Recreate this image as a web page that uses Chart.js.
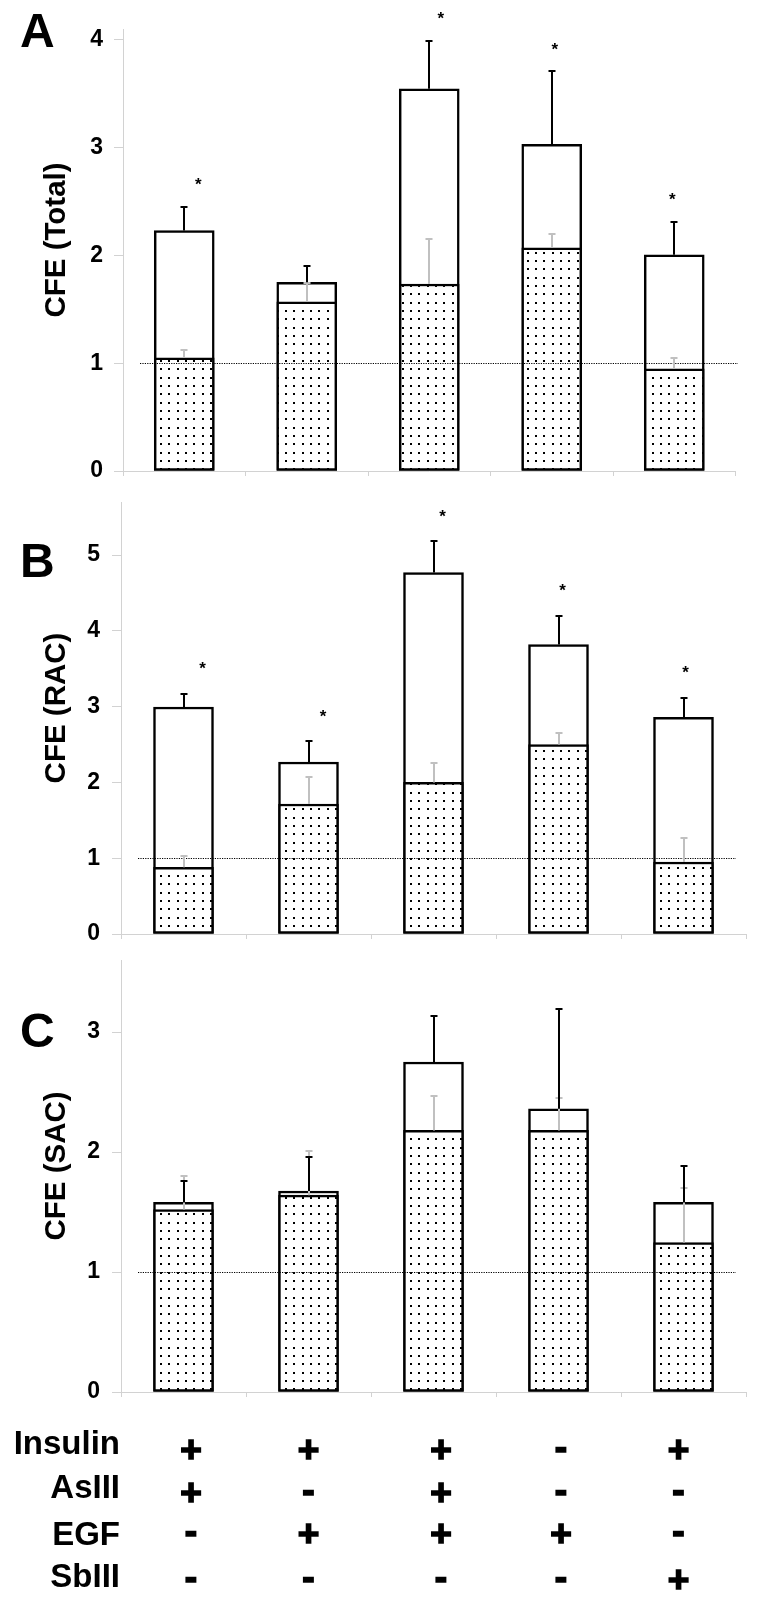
<!DOCTYPE html>
<html>
<head>
<meta charset="utf-8">
<script src="https://cdn.jsdelivr.net/npm/chart.js@4.4.1/dist/chart.umd.min.js"></script>
<style>
html,body{margin:0;padding:0;background:#fff;}
body{width:762px;height:1601px;position:relative;overflow:hidden;}
canvas{position:absolute;left:0;display:block;}
</style>
</head>
<body>
<canvas id="cA" width="762" height="490" style="top:0px;width:762px;height:490px"></canvas>
<canvas id="cB" width="762" height="455" style="top:490px;width:762px;height:455px"></canvas>
<canvas id="cC" width="762" height="656" style="top:945px;width:762px;height:656px"></canvas>
<script>
// ---------- data ----------
const categories = ['Ins+AsIII', 'Ins+EGF', 'Ins+AsIII+EGF', 'EGF', 'Ins+SbIII'];
const treatmentNames = ['Insulin', 'AsIII', 'EGF', 'SbIII'];
const insulin = ['+', '+', '+', '-', '+'];
const asIII   = ['+', '-', '+', '-', '-'];
const egf     = ['-', '+', '+', '+', '-'];
const sbIII   = ['-', '-', '-', '-', '+'];
const yTicksA = [0, 1, 2, 3, 4];
const yTicksB = [0, 1, 2, 3, 4, 5];
const yTicksC = [0, 1, 2, 3];

// Panel A - CFE (Total)
const totalA    = [2.23, 1.75, 3.545, 3.03, 2.005];
const totalErrA = [0.22, 0.15, 0.445, 0.68, 0.305];
const baseA     = [1.05, 1.57, 1.735, 2.07, 0.947];
const baseErrA  = [0.07, 0.175, 0.415, 0.13, 0.10];
const sigA      = [true, false, true, true, true];

// Panel B - CFE (RAC)
const totalB    = [2.995, 2.27, 4.77, 3.82, 2.86];
const totalErrB = [0.175, 0.27, 0.41, 0.38, 0.26];
const baseB     = [0.88, 1.715, 2.0, 2.5, 0.95];
const baseErrB  = [0.15, 0.355, 0.25, 0.15, 0.32];
const sigB      = [true, true, true, true, true];

// Panel C - CFE (SAC)
const totalC    = [1.58, 1.675, 2.75, 2.36, 1.58];
const totalErrC = [0.18, 0.285, 0.38, 0.83, 0.30];
const baseC     = [1.52, 1.64, 2.18, 2.18, 1.245];
const baseErrC  = [0.28, 0.37, 0.29, 0.27, 0.455];
const sigC      = [false, false, false, false, false];

// ---------- style / layout ----------
const FONT = 'Liberation Sans, Arial, Helvetica, sans-serif';
const AXIS_GREY = '#d2d2d2';
const SIGN_DX = [7.5, 0, 7.5, 2.5, -5];
const LABEL_BASE_DY = [62, 106, 153, 195];
const SIGN_CENTER_DY = [57.5, 100, 141, 187];

function dotPattern(ctx) {
  const t = document.createElement('canvas');
  t.width = 25; t.height = 25;
  const g = t.getContext('2d');
  g.fillStyle = '#ffffff'; g.fillRect(0, 0, 25, 25);
  g.fillStyle = '#000000';
  [2, 10, 18].forEach(x => [2, 10, 18].forEach(y => g.fillRect(x, y, 2, 2)));
  return ctx.createPattern(t, 'repeat');
}

function drawCentered(ctx, txt, cx, cy, stroke) {
  const m = ctx.measureText(txt);
  ctx.textAlign = 'center';
  ctx.textBaseline = 'alphabetic';
  const by = cy + (m.actualBoundingBoxAscent - m.actualBoundingBoxDescent) / 2;
  ctx.fillText(txt, cx, by);
  if (stroke) {
    ctx.lineWidth = stroke;
    ctx.strokeStyle = ctx.fillStyle;
    ctx.lineJoin = 'miter';
    ctx.strokeText(txt, cx, by);
  }
}

function makePanel(cfg) {
  const canvas = document.getElementById(cfg.id);
  const ctx = canvas.getContext('2d');
  const pattern = dotPattern(ctx);

  const decor = {
    id: 'decor',
    afterDatasetsDraw(chart) {
      const c = chart.ctx, ys = chart.scales.y, area = chart.chartArea;
      const mBase = chart.getDatasetMeta(0), mTot = chart.getDatasetMeta(1);
      c.save();
      // dotted reference line at 1
      const y1 = Math.round(ys.getPixelForValue(1)) + 0.5;
      c.setLineDash([1.2, 1.2]);
      c.lineWidth = 1.2;
      c.strokeStyle = '#000';
      c.beginPath();
      c.moveTo(area.left + 17, y1);
      c.lineTo(area.left + 615, y1);
      c.stroke();
      c.setLineDash([]);
      function err(meta, vals, errs, color) {
        c.strokeStyle = color;
        c.lineWidth = 2;
        vals.forEach((v, i) => {
          const x = Math.round(meta.data[i].x);
          const yb = ys.getPixelForValue(v);
          const yt = Math.round(ys.getPixelForValue(v + errs[i]));
          c.beginPath();
          c.moveTo(x, yb);
          c.lineTo(x, yt);
          c.moveTo(x - 3.5, yt);
          c.lineTo(x + 3.5, yt);
          c.stroke();
        });
      }
      err(mBase, cfg.base, cfg.baseErr, '#c0c0c0');
      err(mTot, cfg.total, cfg.totalErr, '#000');
      // significance stars
      c.fillStyle = '#000';
      c.font = 'bold 17px ' + FONT;
      cfg.sig.forEach((s, i) => {
        if (!s) return;
        const x = mTot.data[i].x + cfg.starDx[i];
        const y = ys.getPixelForValue(cfg.total[i] + cfg.totalErr[i]) - cfg.starGap;
        drawCentered(c, '*', x, y);
      });
      c.restore();
    },
    afterDraw(chart) {
      const c = chart.ctx, area = chart.chartArea;
      c.save();
      c.fillStyle = '#000';
      // panel letter
      c.font = 'bold 48px ' + FONT;
      c.textAlign = 'left';
      c.textBaseline = 'alphabetic';
      c.fillText(cfg.letter, 20, cfg.letterY);
      // y title
      c.save();
      c.translate(65, (area.top + area.bottom) / 2 - 10);
      c.rotate(-Math.PI / 2);
      c.font = 'bold 29.5px ' + FONT;
      c.textAlign = 'center';
      c.textBaseline = 'alphabetic';
      c.fillText(cfg.title, 0, 0);
      c.restore();
      // treatment table
      if (cfg.table) {
        const xs = chart.scales.x;
        const rows = [insulin, asIII, egf, sbIII];
        rows.forEach((row, r) => {
          c.font = 'bold 33px ' + FONT;
          c.textAlign = 'right';
          c.textBaseline = 'alphabetic';
          c.fillText(treatmentNames[r], area.left - 1, area.bottom + LABEL_BASE_DY[r]);
          c.font = 'bold 37px ' + FONT;
          row.forEach((sgn, i) => {
            drawCentered(c, sgn, xs.getPixelForValue(i) + SIGN_DX[i], area.bottom + SIGN_CENTER_DY[r], 1.6);
          });
        });
      }
      c.restore();
    }
  };

  return new Chart(ctx, {
    type: 'bar',
    data: {
      labels: categories,
      datasets: [
        { label: 'base', data: cfg.base, backgroundColor: pattern, borderColor: '#000', borderWidth: 2.5,
          borderSkipped: false, grouped: false, barThickness: 60 },
        { label: 'total', data: cfg.total, backgroundColor: '#ffffff', borderColor: '#000', borderWidth: 2.5,
          borderSkipped: false, grouped: false, barThickness: 60 }
      ]
    },
    options: {
      responsive: false,
      animation: false,
      devicePixelRatio: 1,
      layout: { padding: cfg.pad },
      plugins: { legend: { display: false }, tooltip: { enabled: false } },
      scales: {
        x: {
          grid: { display: true, drawOnChartArea: false, drawTicks: true, tickLength: 5, color: AXIS_GREY, offset: true },
          border: { display: true, color: AXIS_GREY, width: 1 },
          ticks: { display: false },
          afterFit: s => { s.height = 10; }
        },
        y: {
          min: 0, max: cfg.max,
          ticks: { stepSize: 1, includeBounds: false, color: '#000', padding: cfg.tickPad,
                   font: { family: FONT, weight: 'bold', size: 23 } },
          afterBuildTicks: s => { s.ticks = cfg.yTicks.map(v => ({ value: v })); },
          grid: { display: true, drawOnChartArea: false, drawTicks: true, tickLength: 9, color: AXIS_GREY },
          border: { display: true, color: AXIS_GREY, width: 1 },
          afterFit: s => { s.width = cfg.axisWidth; s.paddingTop = 0; s.paddingBottom = 0; }
        }
      }
    },
    plugins: [decor]
  });
}

makePanel({ id: 'cA', letter: 'A', letterY: 47, title: 'CFE (Total)', max: 4.1, yTicks: yTicksA,
  total: totalA, totalErr: totalErrA, base: baseA, baseErr: baseErrA, sig: sigA,
  axisWidth: 123, pad: { left: 0, right: 26.5, top: 29, bottom: 9 }, tickPad: 11,
  starGap: 25, starDx: [14, 0, 11.5, 3, -2], table: false });

makePanel({ id: 'cB', letter: 'B', letterY: 87, title: 'CFE (RAC)', max: 5.7, yTicks: yTicksB,
  total: totalB, totalErr: totalErrB, base: baseB, baseErr: baseErrB, sig: sigB,
  axisWidth: 121, pad: { left: 0, right: 16, top: 12, bottom: 1 }, tickPad: 12,
  starGap: 28, starDx: [19, 14.5, 9, 4, 2], table: false });

makePanel({ id: 'cC', letter: 'C', letterY: 102, title: 'CFE (SAC)', max: 3.6, yTicks: yTicksC,
  total: totalC, totalErr: totalErrC, base: baseC, baseErr: baseErrC, sig: sigC,
  axisWidth: 121, pad: { left: 0, right: 16, top: 15, bottom: 199 }, tickPad: 12,
  starGap: 28, starDx: [0, 0, 0, 0, 0], table: true });
</script>
</body>
</html>
